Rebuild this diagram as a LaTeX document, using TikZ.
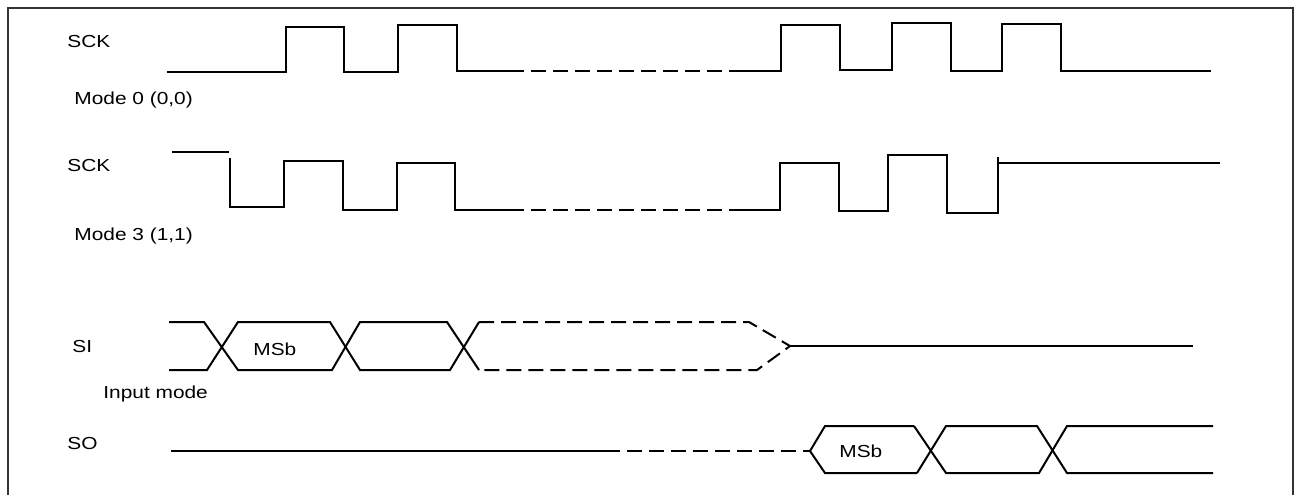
\documentclass[tikz,border=0pt]{standalone}
\usepackage{fontspec}
\setmainfont{Liberation Sans}[FakeStretch=1.2]
\begin{document}
\begin{tikzpicture}[x=0.5pt,y=-0.5pt]
		\tikzstyle{wave}=[line width=1pt,line join=miter]
		\tikzstyle{skip}=[wave,dash pattern=on 7.5pt off 3.5pt]
		\tikzstyle{tag}=[anchor=base west,inner sep=0pt,font=\fontsize{8.7}{10}\selectfont]
	\useasboundingbox (0,0) rectangle (1296,495);
	\draw[line width=1pt,black!80] (8,495) -- (8,8) -- (1293,8) -- (1293,495);
	\foreach \n/\t/\x/\y in {sck0/SCK/67/47, mode0/{Mode 0 (0,0)}/74/104, sck3/SCK/67/171, mode3/{Mode 3 (1,1)}/74/240, si/SI/72/352, inmode/Input mode/103/398, so/SO/67/449, msbi/MSb/253/355, msbo/MSb/839/457}
		\node[tag] (\n) at (\x,\y) {\t};
	% SCK, mode 0
	\draw[wave] (167,72) -- (286,72) -- (286,27) -- (344,27) -- (344,72) -- (398,72) -- (398,25) -- (457,25) -- (457,71) -- (509,71);
	\draw[skip] (509,71) -- (730,71);
	\draw[wave] (730,71) -- (781,71) -- (781,25) -- (840,25) -- (840,70) -- (892,70) -- (892,23) -- (951,23) -- (951,71) -- (1002,71) -- (1002,24) -- (1061,24) -- (1061,71) -- (1211,71);
	% SCK, mode 3
	\draw[wave] (172,152) -- (229,152);
	\draw[wave] (230,158) -- (230,207) -- (284,207) -- (284,161) -- (343,161) -- (343,210) -- (397,210) -- (397,163) -- (455,163) -- (455,210) -- (509,210);
	\draw[skip] (509,210) -- (729,210);
	\draw[wave] (729,210) -- (780,210) -- (780,163) -- (839,163) -- (839,211) -- (888,211) -- (888,155) -- (947,155) -- (947,213) -- (998,213) -- (998,157);
	\draw[wave] (998,163) -- (1220,163);
	% SI
	\draw[wave] (169,322) -- (204,322) -- (238,370) -- (332,370) -- (360,322) -- (447,322) -- (479,370);
	\draw[wave] (169,370) -- (207,370) -- (238,322) -- (330,322) -- (360,370) -- (450,370) -- (479,322);
	\draw[skip] (479,322) -- (749,322) -- (790,346) -- (757,370) -- (479,370);
	\draw[wave] (790,346) -- (1193,346);
	% SO
	\draw[wave] (171,451) -- (605,451);
	\draw[skip] (605,451) -- (810,451);
	\draw[wave] (914,426) -- (825,426) -- (810,451) -- (825,473) -- (917,473);
	\draw[wave] (914,426) -- (946,473) -- (1039,473) -- (1067,426) -- (1213,426);
	\draw[wave] (917,473) -- (946,426) -- (1037,426) -- (1067,473) -- (1213,473);
\end{tikzpicture}
\end{document}
